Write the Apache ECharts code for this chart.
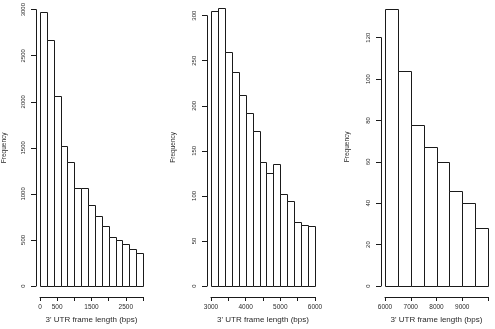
<!DOCTYPE html>
<html>
<head>
<meta charset="utf-8">
<script src="https://cdn.jsdelivr.net/npm/echarts@6/dist/echarts.min.js"></script>
<style>
html,body{margin:0;padding:0;background:#fff;}
#chart{width:495px;height:329px;}
</style>
</head>
<body>
<div id="chart"></div>
<script>
// Panel 1: 0–3000 bps, bins of 200
var binStart1 = [0, 200, 400, 600, 800, 1000, 1200, 1400, 1600, 1800, 2000, 2200, 2400, 2600, 2800];
var binEnd1   = [200, 400, 600, 800, 1000, 1200, 1400, 1600, 1800, 2000, 2200, 2400, 2600, 2800, 3000];
var counts1   = [2975, 2667, 2059, 1522, 1350, 1060, 1060, 877, 763, 655, 533, 501, 455, 405, 362];
var xLabels1  = ['0', '500', '1500', '2500'];

// Panel 2: 3000–6000 bps, bins of 200
var binStart2 = [3000, 3200, 3400, 3600, 3800, 4000, 4200, 4400, 4600, 4800, 5000, 5200, 5400, 5600, 5800];
var binEnd2   = [3200, 3400, 3600, 3800, 4000, 4200, 4400, 4600, 4800, 5000, 5200, 5400, 5600, 5800, 6000];
var counts2   = [305, 308, 260, 237, 212, 192, 172, 138, 125, 135, 102, 94, 71, 68, 67];
var xLabels2  = ['3000', '4000', '5000', '6000'];

// Panel 3: 6000–10000 bps, bins of 500
var binStart3 = [6000, 6500, 7000, 7500, 8000, 8500, 9000, 9500];
var binEnd3   = [6500, 7000, 7500, 8000, 8500, 9000, 9500, 10000];
var counts3   = [134, 104, 78, 67, 60, 46, 40, 28];
var xLabels3  = ['6000', '7000', '8000', '9000'];

var xTitle = "3' UTR frame length (bps)";
var yTitle = 'Frequency';

var FONT = '"Liberation Sans", Arial, sans-serif';
var INK = '#1a1a1a';
var TXT = '#2a2a2a';

function rows(s, e, c) {
  var out = [];
  for (var i = 0; i < c.length; i++) out.push([s[i], e[i], c[i]]);
  return out;
}

function renderBar(params, api) {
  var p0 = api.coord([api.value(0), 0]);
  var p1 = api.coord([api.value(1), api.value(2)]);
  var x0 = Math.round(p0[0]) + 0.5, x1 = Math.round(p1[0]) + 0.5;
  var y0 = Math.round(p0[1]) + 0.5, y1 = Math.round(p1[1]) + 0.5;
  return {
    type: 'rect',
    shape: { x: x0, y: y1, width: x1 - x0, height: y0 - y1 },
    style: { fill: '#fff', stroke: INK, lineWidth: 1 }
  };
}

var panels = [
  { grid: { left: 39.5, top: 7, width: 103.5, height: 279 },
    xmin: 0, xmax: 3000, xint: 500, labels: xLabels1,
    ymax: 3000, yint: 500, data: rows(binStart1, binEnd1, counts1),
    yGap: 28, yPad: [0, 0, 0, 0] },
  { grid: { left: 211, top: 15.7, width: 104, height: 270.3 },
    xmin: 3000, xmax: 6000, xint: 500, labels: xLabels2,
    ymax: 300, yint: 50, data: rows(binStart2, binEnd2, counts2),
    yGap: 30, yPad: [0, 0, 0, 7] },
  { grid: { left: 385, top: 37.7, width: 103, height: 248.3 },
    xmin: 6000, xmax: 10000, xint: 1000, labels: xLabels3,
    ymax: 120, yint: 20, data: rows(binStart3, binEnd3, counts3),
    yGap: 30, yPad: [0, 0, 0, 30] }
];

var option = {
  animation: false,
  backgroundColor: '#fff',
  grid: [], xAxis: [], yAxis: [], series: []
};

panels.forEach(function (p, i) {
  option.grid.push(Object.assign({ containLabel: false }, p.grid));
  option.xAxis.push({
    type: 'value', gridIndex: i, min: p.xmin, max: p.xmax, interval: p.xint,
    position: 'bottom', offset: 11,
    axisLine: { show: true, onZero: false, lineStyle: { color: INK, width: 1 } },
    axisTick: { show: true, inside: false, length: 4, lineStyle: { color: INK, width: 1 } },
    splitLine: { show: false },
    axisLabel: {
      show: true, margin: 7, fontSize: 6.5, fontFamily: FONT, color: TXT,
      showMinLabel: true, showMaxLabel: true, hideOverlap: false,
      formatter: (function (labs) {
        return function (v) { var s = String(v); return labs.indexOf(s) >= 0 ? s : ''; };
      })(p.labels)
    },
    name: xTitle, nameLocation: 'middle', nameGap: 19,
    nameTextStyle: { fontSize: 8, fontFamily: FONT, color: TXT }
  });
  option.yAxis.push({
    type: 'value', gridIndex: i, min: 0, max: p.ymax, interval: p.yint,
    position: 'left', offset: 4,
    axisLine: { show: true, onZero: false, lineStyle: { color: INK, width: 1 } },
    axisTick: { show: true, inside: false, length: 5, lineStyle: { color: INK, width: 1 } },
    splitLine: { show: false },
    axisLabel: {
      show: true, rotate: 90, margin: 10, fontSize: 6, fontFamily: FONT, color: TXT,
      showMinLabel: true, showMaxLabel: true,
      formatter: function (v) { return String(v); }
    },
    name: yTitle, nameLocation: 'middle', nameGap: p.yGap,
    nameTextStyle: { fontSize: 6.5, fontFamily: FONT, color: TXT, padding: p.yPad }
  });
  option.series.push({
    type: 'custom', xAxisIndex: i, yAxisIndex: i, clip: false,
    renderItem: renderBar,
    encode: { x: [0, 1], y: 2 },
    data: p.data
  });
});

var chart = echarts.init(document.getElementById('chart'), null, { renderer: 'canvas' });
chart.setOption(option);
</script>
</body>
</html>
